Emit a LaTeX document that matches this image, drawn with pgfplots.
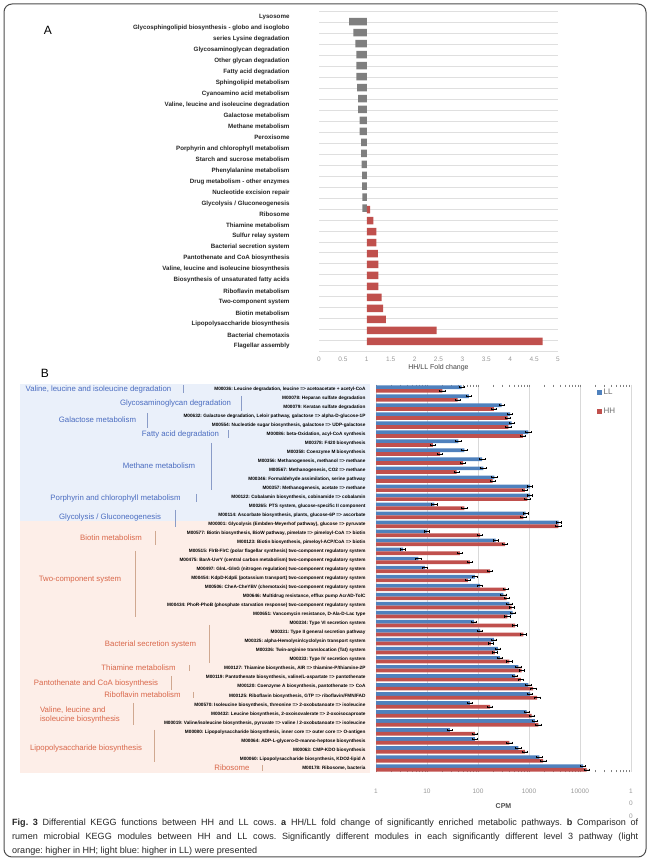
\documentclass[border=0pt]{standalone}
\usepackage{fontspec}
\setmainfont{Liberation Sans}
\usepackage{pgfplots}
\pgfplotsset{compat=1.18}
\frenchspacing

\definecolor{barred}{HTML}{C0504D}
\definecolor{bargray}{HTML}{7F7F7F}
\definecolor{llblue}{HTML}{4F81BD}
\definecolor{grptxtb}{HTML}{4A6CC0}
\definecolor{grptxto}{HTML}{D9674A}
\definecolor{bgblue}{HTML}{EAF0FA}
\definecolor{bgorange}{HTML}{FDEEE8}
\definecolor{sepb}{HTML}{8A9CC8}
\definecolor{sepo}{HTML}{D0A890}

\newcommand{\grp}{\fontsize{7.8}{9}\selectfont}

\begin{document}
\begin{tikzpicture}
\path[use as bounding box] (0pt,0pt) rectangle (650pt,860pt);

% backgrounds of panel B label area
\fill[bgblue] (20pt,476pt) rectangle (370pt,338.5pt);
\fill[bgorange] (20pt,338.5pt) rectangle (370pt,87pt);

% ---------------- panel A ----------------
\node[font=\fontsize{12}{14}\selectfont] at (48pt,830pt) {A};
\begin{axis}[
    at={(319pt,848.5pt)}, anchor=north west,
    scale only axis, width=239pt, height=340pt,
    xmin=0, xmax=5, ymin=-0.5, ymax=30.5, y dir=reverse,
    x coord trafo/.code={\pgfmathparse{#1-1}},
    x coord inv trafo/.code={\pgfmathparse{#1+1}},
    xtick={0,0.5,1,1.5,2,2.5,3,3.5,4,4.5,5},
    xticklabels={0,0.5,1,1.5,2,2.5,3,3.5,4,4.5,5},
    ytick={0,...,30},
    yticklabels={Lysosome,
      Glycosphingolipid biosynthesis - globo and isoglobo,
      series Lysine degradation,
      Glycosaminoglycan degradation,
      Other glycan degradation,
      Fatty acid degradation,
      Sphingolipid metabolism,
      Cyanoamino acid metabolism,
      {Valine, leucine and isoleucine degradation},
      Galactose metabolism,
      Methane metabolism,
      Peroxisome,
      Porphyrin and chlorophyll metabolism,
      Starch and sucrose metabolism,
      Phenylalanine metabolism,
      Drug metabolism - other enzymes,
      Nucleotide excision repair,
      Glycolysis / Gluconeogenesis,
      Ribosome,
      Thiamine metabolism,
      Sulfur relay system,
      Bacterial secretion system,
      Pantothenate and CoA biosynthesis,
      {Valine, leucine and isoleucine biosynthesis},
      Biosynthesis of unsaturated fatty acids,
      Riboflavin metabolism,
      Two-component system,
      Biotin metabolism,
      Lipopolysaccharide biosynthesis,
      Bacterial chemotaxis,
      Flagellar assembly},
    minor ytick={-0.5,0.5,...,30.5},
    yminorgrids, minor grid style={gray!25, line width=0.6pt},
    axis line style={draw=none},
    major tick length=0pt, minor tick length=0pt,
    yticklabel style={font=\fontsize{6.2}{7}\selectfont\bfseries, text=black!85, xshift=-26pt},
    xticklabel style={font=\fontsize{6.5}{7}\selectfont, text=gray!80, yshift=-2pt},
    /pgf/number format/assume math mode=true,
    xlabel={HH/LL Fold change},
    xlabel style={font=\fontsize{7}{8}\selectfont, text=black!75, yshift=4pt},
    xbar, bar width=7.5pt,
]
\addplot[xbar, fill=bargray, draw=none] coordinates {
 (0.63,0) (0.72,1) (0.76,2) (0.78,3) (0.78,4) (0.78,5) (0.80,6) (0.82,7)
 (0.82,8) (0.85,9) (0.85,10) (0.88,11) (0.88,12) (0.89,13) (0.90,14)
 (0.90,15) (0.91,16) (0.91,17)};
\addplot[xbar, fill=barred, draw=none] coordinates {
 (1.07,18) (1.14,19) (1.20,20) (1.20,21) (1.23,22) (1.24,23) (1.24,24)
 (1.24,25) (1.31,26) (1.34,27) (1.40,28) (2.46,29) (4.68,30)};
\end{axis}

% ---------------- panel B ----------------
\node[font=\fontsize{12}{14}\selectfont] at (45pt,487pt) {B};
\begin{axis}[
    at={(376pt,475.5pt)}, anchor=north west,
    scale only axis, width=255pt, height=388pt,
    xmode=log, xmin=1, xmax=100000,
    ymin=-0.5, ymax=42.5, y dir=reverse,
    xtick={1,10,100,1000,10000,100000},
    xticklabels={1,10,100,1000,10000,\shortstack{1\\[4.8pt]0\\[4.8pt]0}},
    ytick={0,...,42},
    yticklabels={
      M00036: Leucine degradation{,} leucine => acetoacetate + acetyl-CoA,
      M00078: Heparan sulfate degradation,
      M00079: Keratan sulfate degradation,
      M00632: Galactose degradation{,} Leloir pathway{,} galactose => alpha-D-glucose-1P,
      M00554: Nucleotide sugar biosynthesis{,} galactose => UDP-galactose,
      M00086: beta-Oxidation{,} acyl-CoA synthesis,
      M00378: F420 biosynthesis,
      M00358: Coenzyme M biosynthesis,
      M00356: Methanogenesis{,} methanol => methane,
      M00567: Methanogenesis{,} CO2 => methane,
      M00346: Formaldehyde assimilation{,} serine pathway,
      M00357: Methanogenesis{,} acetate => methane,
      M00122: Cobalamin biosynthesis{,} cobinamide => cobalamin,
      M00265: PTS system{,} glucose-specific II component,
      M00114: Ascorbate biosynthesis{,} plants{,} glucose-6P => ascorbate,
      M00001: Glycolysis (Embden-Meyerhof pathway){,} glucose => pyruvate,
      M00577: Biotin biosynthesis{,} BioW pathway{,} pimelate => pimeloyl-CoA => biotin,
      M00123: Biotin biosynthesis{,} pimeloyl-ACP/CoA => biotin,
      M00515: FlrB-FlrC (polar flagellar synthesis) two-component regulatory system,
      M00475: BarA-UvrY (central carbon metabolism) two-component regulatory system,
      M00497: GlnL-GlnG (nitrogen regulation) two-component regulatory system,
      M00454: KdpD-KdpE (potassium transport) two-component regulatory system,
      M00506: CheA-CheYBV (chemotaxis) two-component regulatory system,
      M00646: Multidrug resistance{,} efflux pump AcrAD-TolC,
      M00434: PhoR-PhoB (phosphate starvation response) two-component regulatory system,
      M00651: Vancomycin resistance{,} D-Ala-D-Lac type,
      M00334: Type VI secretion system,
      M00331: Type II general secretion pathway,
      M00325: alpha-Hemolysin/cyclolysin transport system,
      M00336: Twin-arginine translocation (Tat) system,
      M00333: Type IV secretion system,
      M00127: Thiamine biosynthesis{,} AIR => thiamine-P/thiamine-2P,
      M00119: Pantothenate biosynthesis{,} valine/L-aspartate => pantothenate,
      M00120: Coenzyme A biosynthesis{,} pantothenate => CoA,
      M00125: Riboflavin biosynthesis{,} GTP => riboflavin/FMN/FAD,
      M00570: Isoleucine biosynthesis{,} threonine => 2-oxobutanoate => isoleucine,
      M00432: Leucine biosynthesis{,} 2-oxoisovalerate => 2-oxoisocaproate,
      M00019: Valine/isoleucine biosynthesis{,} pyruvate => valine / 2-oxobutanoate => isoleucine,
      M00080: Lipopolysaccharide biosynthesis{,} inner core => outer core => O-antigen,
      M00064: ADP-L-glycero-D-manno-heptose biosynthesis,
      M00063: CMP-KDO biosynthesis,
      M00060: Lipopolysaccharide biosynthesis{,} KDO2-lipid A,
      M00178: Ribosome{,} bacteria},
    xmajorgrids, grid style={gray!30, line width=0.6pt},
    axis line style={draw=none},
    major tick length=0pt,
    yticklabel style={font=\fontsize{4.7}{5}\selectfont\bfseries, text=black, xshift=-7pt},
    xticklabel style={font=\fontsize{6.5}{7}\selectfont, text=gray!80, anchor=north, yshift=-13pt},
    /pgf/number format/assume math mode=true,
    xbar, bar width=3.7pt,
    legend style={at={(0.855,0.999)}, anchor=north west, draw=none, fill=none,
      font=\fontsize{8}{9}\selectfont\color{gray!85!black}, row sep=8pt},
    legend cell align=left,
    legend image code/.code={\fill[#1] (0pt,-2.2pt) rectangle (4.4pt,2.2pt);},
    error bars/error bar style={line width=0.35pt, black},
    error bars/error mark options={rotate=90, mark size=1.1pt, line width=0.35pt, black},
]
\addplot[xbar, fill=llblue, draw=none, bar shift=1.85pt,
  error bars/.cd, x dir=both, x fixed relative=0.12] coordinates {
 (48,0) (66,1) (290,2) (425,3) (457,4) (970,5) (41,6) (54,7) (121,8) (127,9)
 (209,10) (1050,11) (1050,12) (14,13) (860,14) (3800,15) (10,16) (222,17)
 (3.4,18) (6.8,19) (9.1,20) (87,21) (110,22) (315,23) (410,24) (480,25)
 (83,26) (110,27) (205,28) (245,29) (270,30) (620,31) (535,32) (970,33)
 (1050,34) (69,35) (900,36) (1310,37) (28,38) (87,39) (620,40) (1590,41)
 (11500,42)};
\addlegendentry{LL}
\addplot[xbar, fill=barred, draw=none, bar shift=-1.85pt,
  error bars/.cd, x dir=both, x fixed relative=0.12] coordinates {
 (20,0) (40,1) (205,2) (380,3) (395,4) (755,5) (13,6) (18,7) (51,8) (38,9)
 (194,10) (830,11) (930,12) (54,13) (775,14) (3750,15) (110,16) (340,17)
 (44,18) (69,19) (173,20) (63,21) (350,22) (365,23) (457,24) (377,25)
 (535,26) (775,27) (178,28) (215,29) (410,30) (720,31) (690,32) (1210,33)
 (1450,34) (173,35) (1130,36) (1520,37) (87,38) (410,39) (830,40) (1900,41)
 (13500,42)};
\addlegendentry{HH}
\end{axis}
\node[font=\fontsize{7}{8}\selectfont\bfseries, text=black!70] at (503.5pt,54pt) {CPM};

% group labels, blue (higher in LL)
\begin{scope}[every node/.style={font=\grp, text=grptxtb, inner sep=0pt}]
\node at (98.5pt,471pt) {Valine, leucine and isoleucine degradation};
\node at (175.5pt,457pt) {Glycosaminoglycan degradation};
\node at (97.5pt,440pt) {Galactose metabolism};
\node at (180.5pt,426pt) {Fatty acid degradation};
\node at (159pt,394pt) {Methane metabolism};
\node at (115.5pt,362pt) {Porphyrin and chlorophyll metabolism};
\node at (110pt,343pt) {Glycolysis / Gluconeogenesis};
\end{scope}
\begin{scope}[sepb, line width=0.6pt]
\draw (183pt,475pt) -- (183pt,467pt);
\draw (241pt,464pt) -- (241pt,449pt);
\draw (147pt,447pt) -- (147pt,432pt);
\draw (228pt,430pt) -- (228pt,422pt);
\draw (211pt,417pt) -- (211pt,370pt);
\draw (196pt,366pt) -- (196pt,358pt);
\draw (175pt,350pt) -- (175pt,333pt);
\end{scope}

% group labels, orange (higher in HH)
\begin{scope}[every node/.style={font=\grp, text=grptxto, inner sep=0pt}]
\node at (111pt,322pt) {Biotin metabolism};
\node at (80pt,280pt) {Two-component system};
\node at (150.5pt,216pt) {Bacterial secretion system};
\node at (138.5pt,192pt) {Thiamine metabolism};
\node at (96pt,177pt) {Pantothenate and CoA biosynthesis};
\node at (142.5pt,165pt) {Riboflavin metabolism};
\node[align=left] at (80pt,145.5pt) {Valine, leucine and\\isoleucine biosynthesis};
\node at (86pt,112pt) {Lipopolysaccharide biosynthesis};
\node at (232pt,92pt) {Ribosome};
\end{scope}
\begin{scope}[sepo, line width=0.6pt]
\draw (155pt,329pt) -- (155pt,315pt);
\draw (135pt,309pt) -- (135pt,243pt);
\draw (209pt,235pt) -- (209pt,197pt);
\draw (189pt,195pt) -- (189pt,189pt);
\draw (171pt,184pt) -- (171pt,170pt);
\draw (193pt,168pt) -- (193pt,162pt);
\draw (133pt,157pt) -- (133pt,135pt);
\draw (154pt,130pt) -- (154pt,98pt);
\draw (262pt,95pt) -- (262pt,89pt);
\end{scope}

% caption
\begin{scope}[every node/.style={anchor=base west, inner sep=0pt, font=\fontsize{9.05}{11}\selectfont, text=black!85}]
\node at (12pt,34.5pt) {\makebox[626pt][s]{\textbf{Fig. 3} Differential KEGG functions between HH and LL cows. \textbf{a} HH/LL fold change of significantly enriched metabolic pathways. \textbf{b} Comparison of}};
\node at (12pt,20.5pt) {\makebox[626pt][s]{rumen microbial KEGG modules between HH and LL cows. Significantly different modules in each significantly different level 3 pathway (light}};
\node at (12pt,6.5pt) {orange: higher in HH; light blue: higher in LL) were presented};
\end{scope}

% frame
\draw[black!70, line width=1pt, rounded corners=8pt] (4pt,3pt) rectangle (646pt,856pt);
\end{tikzpicture}
\end{document}
